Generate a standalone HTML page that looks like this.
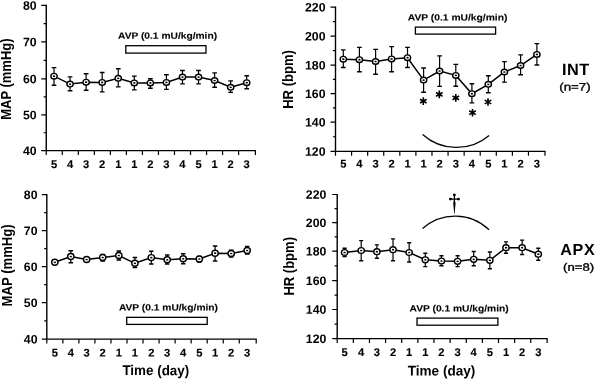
<!DOCTYPE html>
<html><head><meta charset="utf-8"><title>Figure</title>
<style>
html,body{margin:0;padding:0;background:#fff;}
svg{display:block;font-family:'Liberation Sans', sans-serif;will-change:transform;transform:translateZ(0);filter:blur(0.35px);}
text{fill:#000;}
</style></head>
<body>
<svg width="596" height="379" viewBox="0 0 596 379">
<rect width="596" height="379" fill="#fff"/>
<path d="M46.25 4.7 V150.6 H256" fill="none" stroke="#000" stroke-width="1.4"/>
<text transform="translate(36.65 9.65) rotate(0.05)" font-size="12.3" font-weight="bold" text-anchor="end" >80</text>
<text transform="translate(36.65 46.25) rotate(0.05)" font-size="12.3" font-weight="bold" text-anchor="end" >70</text>
<text transform="translate(36.65 83.15) rotate(0.05)" font-size="12.3" font-weight="bold" text-anchor="end" >60</text>
<text transform="translate(36.65 119.25) rotate(0.05)" font-size="12.3" font-weight="bold" text-anchor="end" >50</text>
<text transform="translate(36.65 154.95) rotate(0.05)" font-size="12.3" font-weight="bold" text-anchor="end" >40</text>
<path d="M41.25 5.3 H46.25 M43.65 23.6 H46.25 M41.25 41.9 H46.25 M43.65 60.35 H46.25 M41.25 78.8 H46.25 M43.65 96.85 H46.25 M41.25 114.9 H46.25 M43.65 132.75 H46.25 M41.25 150.6 H46.25 M46.25 150.6 V154.9 M62.28 150.6 V154.9 M78.31 150.6 V154.9 M94.34 150.6 V154.9 M110.37 150.6 V154.9 M126.4 150.6 V154.9 M142.43 150.6 V154.9 M158.46 150.6 V154.9 M174.49 150.6 V154.9 M190.52 150.6 V154.9 M206.55 150.6 V154.9 M222.58 150.6 V154.9 M238.61 150.6 V154.9 M255.4 150.6 V154.9" fill="none" stroke="#000" stroke-width="1.2"/>
<text transform="translate(54 168) rotate(0.05)" font-size="11.2" font-weight="bold" text-anchor="middle" stroke="#000" stroke-width="0.12" >5</text>
<text transform="translate(70.06 168) rotate(0.05)" font-size="11.2" font-weight="bold" text-anchor="middle" stroke="#000" stroke-width="0.12" >4</text>
<text transform="translate(86.12 168) rotate(0.05)" font-size="11.2" font-weight="bold" text-anchor="middle" stroke="#000" stroke-width="0.12" >3</text>
<text transform="translate(102.18 168) rotate(0.05)" font-size="11.2" font-weight="bold" text-anchor="middle" stroke="#000" stroke-width="0.12" >2</text>
<text transform="translate(118.24 168) rotate(0.05)" font-size="11.2" font-weight="bold" text-anchor="middle" stroke="#000" stroke-width="0.12" >1</text>
<text transform="translate(134.3 168) rotate(0.05)" font-size="11.2" font-weight="bold" text-anchor="middle" stroke="#000" stroke-width="0.12" >1</text>
<text transform="translate(150.36 168) rotate(0.05)" font-size="11.2" font-weight="bold" text-anchor="middle" stroke="#000" stroke-width="0.12" >2</text>
<text transform="translate(166.42 168) rotate(0.05)" font-size="11.2" font-weight="bold" text-anchor="middle" stroke="#000" stroke-width="0.12" >3</text>
<text transform="translate(182.48 168) rotate(0.05)" font-size="11.2" font-weight="bold" text-anchor="middle" stroke="#000" stroke-width="0.12" >4</text>
<text transform="translate(198.54 168) rotate(0.05)" font-size="11.2" font-weight="bold" text-anchor="middle" stroke="#000" stroke-width="0.12" >5</text>
<text transform="translate(214.6 168) rotate(0.05)" font-size="11.2" font-weight="bold" text-anchor="middle" stroke="#000" stroke-width="0.12" >1</text>
<text transform="translate(230.66 168) rotate(0.05)" font-size="11.2" font-weight="bold" text-anchor="middle" stroke="#000" stroke-width="0.12" >2</text>
<text transform="translate(246.72 168) rotate(0.05)" font-size="11.2" font-weight="bold" text-anchor="middle" stroke="#000" stroke-width="0.12" >3</text>
<path d="M54 67.6 V85.3 M70.06 76.9 V90.8 M86.12 73.7 V90.3 M102.18 72.5 V91.9 M118.24 68.8 V86.9 M134.3 76.1 V89.9 M150.36 78.8 V88.3 M166.42 74.8 V89.4 M182.48 70.5 V83.9 M198.54 70.5 V83.9 M214.6 72.9 V87.2 M230.66 80.9 V92.4 M246.72 75.8 V88.8" fill="none" stroke="#000" stroke-width="1.2"/>
<path d="M51.65 67.6 h4.7 M51.65 85.3 h4.7 M67.71 76.9 h4.7 M67.71 90.8 h4.7 M83.77 73.7 h4.7 M83.77 90.3 h4.7 M99.83 72.5 h4.7 M99.83 91.9 h4.7 M115.89 68.8 h4.7 M115.89 86.9 h4.7 M131.95 76.1 h4.7 M131.95 89.9 h4.7 M148.01 78.8 h4.7 M148.01 88.3 h4.7 M164.07 74.8 h4.7 M164.07 89.4 h4.7 M180.13 70.5 h4.7 M180.13 83.9 h4.7 M196.19 70.5 h4.7 M196.19 83.9 h4.7 M212.25 72.9 h4.7 M212.25 87.2 h4.7 M228.31 80.9 h4.7 M228.31 92.4 h4.7 M244.37 75.8 h4.7 M244.37 88.8 h4.7" fill="none" stroke="#000" stroke-width="1.4"/>
<path d="M54 76.2 L70.06 84.1 L86.12 82.2 L102.18 82.4 L118.24 78.3 L134.3 82.9 L150.36 82.9 L166.42 82.4 L182.48 77.1 L198.54 77.1 L214.6 80.5 L230.66 87.3 L246.72 82.7" fill="none" stroke="#000" stroke-width="1.5"/>
<ellipse cx="54" cy="76.2" rx="3.15" ry="2.8" fill="#fff" stroke="#000" stroke-width="1.4"/>
<ellipse cx="54" cy="76.2" rx="1.2" ry="0.85" fill="#000"/>
<ellipse cx="70.06" cy="84.1" rx="3.15" ry="2.8" fill="#fff" stroke="#000" stroke-width="1.4"/>
<ellipse cx="70.06" cy="84.1" rx="1.2" ry="0.85" fill="#000"/>
<ellipse cx="86.12" cy="82.2" rx="3.15" ry="2.8" fill="#fff" stroke="#000" stroke-width="1.4"/>
<ellipse cx="86.12" cy="82.2" rx="1.2" ry="0.85" fill="#000"/>
<ellipse cx="102.18" cy="82.4" rx="3.15" ry="2.8" fill="#fff" stroke="#000" stroke-width="1.4"/>
<ellipse cx="102.18" cy="82.4" rx="1.2" ry="0.85" fill="#000"/>
<ellipse cx="118.24" cy="78.3" rx="3.15" ry="2.8" fill="#fff" stroke="#000" stroke-width="1.4"/>
<ellipse cx="118.24" cy="78.3" rx="1.2" ry="0.85" fill="#000"/>
<ellipse cx="134.3" cy="82.9" rx="3.15" ry="2.8" fill="#fff" stroke="#000" stroke-width="1.4"/>
<ellipse cx="134.3" cy="82.9" rx="1.2" ry="0.85" fill="#000"/>
<ellipse cx="150.36" cy="82.9" rx="3.15" ry="2.8" fill="#fff" stroke="#000" stroke-width="1.4"/>
<ellipse cx="150.36" cy="82.9" rx="1.2" ry="0.85" fill="#000"/>
<ellipse cx="166.42" cy="82.4" rx="3.15" ry="2.8" fill="#fff" stroke="#000" stroke-width="1.4"/>
<ellipse cx="166.42" cy="82.4" rx="1.2" ry="0.85" fill="#000"/>
<ellipse cx="182.48" cy="77.1" rx="3.15" ry="2.8" fill="#fff" stroke="#000" stroke-width="1.4"/>
<ellipse cx="182.48" cy="77.1" rx="1.2" ry="0.85" fill="#000"/>
<ellipse cx="198.54" cy="77.1" rx="3.15" ry="2.8" fill="#fff" stroke="#000" stroke-width="1.4"/>
<ellipse cx="198.54" cy="77.1" rx="1.2" ry="0.85" fill="#000"/>
<ellipse cx="214.6" cy="80.5" rx="3.15" ry="2.8" fill="#fff" stroke="#000" stroke-width="1.4"/>
<ellipse cx="214.6" cy="80.5" rx="1.2" ry="0.85" fill="#000"/>
<ellipse cx="230.66" cy="87.3" rx="3.15" ry="2.8" fill="#fff" stroke="#000" stroke-width="1.4"/>
<ellipse cx="230.66" cy="87.3" rx="1.2" ry="0.85" fill="#000"/>
<ellipse cx="246.72" cy="82.7" rx="3.15" ry="2.8" fill="#fff" stroke="#000" stroke-width="1.4"/>
<ellipse cx="246.72" cy="82.7" rx="1.2" ry="0.85" fill="#000"/>
<rect x="125.8" y="45.7" width="80.2" height="7.4" fill="#fff" stroke="#000" stroke-width="1.3"/>
<text transform="translate(118 38.7) rotate(0.05)" font-size="9.15" font-weight="bold" text-anchor="start" textLength="99.1" lengthAdjust="spacingAndGlyphs" stroke="#000" stroke-width="0.1" >AVP (0.1 mU/kg/min)</text>
<text transform="translate(11.4 119.7) scale(1.135 1) rotate(-90)" x="0" y="0" font-size="13" font-weight="bold" textLength="81.2" lengthAdjust="spacingAndGlyphs">MAP (mmHg)</text>
<path d="M335.5 6.6 V151.4 H545.6" fill="none" stroke="#000" stroke-width="1.4"/>
<text transform="translate(325.5 11.55) rotate(0.05)" font-size="12.3" font-weight="bold" text-anchor="end" >220</text>
<text transform="translate(325.5 40.55) rotate(0.05)" font-size="12.3" font-weight="bold" text-anchor="end" >200</text>
<text transform="translate(325.5 69.45) rotate(0.05)" font-size="12.3" font-weight="bold" text-anchor="end" >180</text>
<text transform="translate(325.5 98.05) rotate(0.05)" font-size="12.3" font-weight="bold" text-anchor="end" >160</text>
<text transform="translate(325.5 126.45) rotate(0.05)" font-size="12.3" font-weight="bold" text-anchor="end" >140</text>
<text transform="translate(325.5 155.75) rotate(0.05)" font-size="12.3" font-weight="bold" text-anchor="end" >120</text>
<path d="M330.5 7.2 H335.5 M332.9 21.7 H335.5 M330.5 36.2 H335.5 M332.9 50.65 H335.5 M330.5 65.1 H335.5 M332.9 79.4 H335.5 M330.5 93.7 H335.5 M332.9 107.9 H335.5 M330.5 122.1 H335.5 M332.9 136.75 H335.5 M330.5 151.4 H335.5 M335.5 151.4 V155.7 M351.58 151.4 V155.7 M367.66 151.4 V155.7 M383.74 151.4 V155.7 M399.82 151.4 V155.7 M415.9 151.4 V155.7 M431.98 151.4 V155.7 M448.06 151.4 V155.7 M464.14 151.4 V155.7 M480.22 151.4 V155.7 M496.3 151.4 V155.7 M512.38 151.4 V155.7 M528.46 151.4 V155.7 M545 151.4 V155.7" fill="none" stroke="#000" stroke-width="1.2"/>
<text transform="translate(343.3 167.6) rotate(0.05)" font-size="11.2" font-weight="bold" text-anchor="middle" stroke="#000" stroke-width="0.12" >5</text>
<text transform="translate(359.4 167.6) rotate(0.05)" font-size="11.2" font-weight="bold" text-anchor="middle" stroke="#000" stroke-width="0.12" >4</text>
<text transform="translate(375.6 167.6) rotate(0.05)" font-size="11.2" font-weight="bold" text-anchor="middle" stroke="#000" stroke-width="0.12" >3</text>
<text transform="translate(391.6 167.6) rotate(0.05)" font-size="11.2" font-weight="bold" text-anchor="middle" stroke="#000" stroke-width="0.12" >2</text>
<text transform="translate(407.5 167.6) rotate(0.05)" font-size="11.2" font-weight="bold" text-anchor="middle" stroke="#000" stroke-width="0.12" >1</text>
<text transform="translate(423.6 167.6) rotate(0.05)" font-size="11.2" font-weight="bold" text-anchor="middle" stroke="#000" stroke-width="0.12" >1</text>
<text transform="translate(439.6 167.6) rotate(0.05)" font-size="11.2" font-weight="bold" text-anchor="middle" stroke="#000" stroke-width="0.12" >2</text>
<text transform="translate(455.8 167.6) rotate(0.05)" font-size="11.2" font-weight="bold" text-anchor="middle" stroke="#000" stroke-width="0.12" >3</text>
<text transform="translate(471.9 167.6) rotate(0.05)" font-size="11.2" font-weight="bold" text-anchor="middle" stroke="#000" stroke-width="0.12" >4</text>
<text transform="translate(488.3 167.6) rotate(0.05)" font-size="11.2" font-weight="bold" text-anchor="middle" stroke="#000" stroke-width="0.12" >5</text>
<text transform="translate(504.4 167.6) rotate(0.05)" font-size="11.2" font-weight="bold" text-anchor="middle" stroke="#000" stroke-width="0.12" >1</text>
<text transform="translate(520.6 167.6) rotate(0.05)" font-size="11.2" font-weight="bold" text-anchor="middle" stroke="#000" stroke-width="0.12" >2</text>
<text transform="translate(536.9 167.6) rotate(0.05)" font-size="11.2" font-weight="bold" text-anchor="middle" stroke="#000" stroke-width="0.12" >3</text>
<path d="M343.3 49.9 V67.5 M359.4 47.4 V71.8 M375.6 49.4 V74.3 M391.6 46.6 V71.8 M407.5 47.4 V67.5 M423.6 68 V92.2 M439.6 55.9 V86.4 M455.8 64.4 V86.3 M471.9 83.8 V102.9 M488.3 75.8 V92.8 M504.4 61.6 V82.1 M520.6 54.9 V74.8 M536.9 43.6 V65" fill="none" stroke="#000" stroke-width="1.2"/>
<path d="M340.95 49.9 h4.7 M340.95 67.5 h4.7 M357.05 47.4 h4.7 M357.05 71.8 h4.7 M373.25 49.4 h4.7 M373.25 74.3 h4.7 M389.25 46.6 h4.7 M389.25 71.8 h4.7 M405.15 47.4 h4.7 M405.15 67.5 h4.7 M421.25 68 h4.7 M421.25 92.2 h4.7 M437.25 55.9 h4.7 M437.25 86.4 h4.7 M453.45 64.4 h4.7 M453.45 86.3 h4.7 M469.55 83.8 h4.7 M469.55 102.9 h4.7 M485.95 75.8 h4.7 M485.95 92.8 h4.7 M502.05 61.6 h4.7 M502.05 82.1 h4.7 M518.25 54.9 h4.7 M518.25 74.8 h4.7 M534.55 43.6 h4.7 M534.55 65 h4.7" fill="none" stroke="#000" stroke-width="1.4"/>
<path d="M343.3 59.2 L359.4 59.7 L375.6 61.5 L391.6 58.9 L407.5 57.7 L423.6 80.1 L439.6 71 L455.8 75.4 L471.9 93.7 L488.3 84.3 L504.4 72.0 L520.6 65.5 L536.9 54.4" fill="none" stroke="#000" stroke-width="1.5"/>
<ellipse cx="343.3" cy="59.2" rx="3.15" ry="2.8" fill="#fff" stroke="#000" stroke-width="1.4"/>
<ellipse cx="343.3" cy="59.2" rx="1.2" ry="0.85" fill="#000"/>
<ellipse cx="359.4" cy="59.7" rx="3.15" ry="2.8" fill="#fff" stroke="#000" stroke-width="1.4"/>
<ellipse cx="359.4" cy="59.7" rx="1.2" ry="0.85" fill="#000"/>
<ellipse cx="375.6" cy="61.5" rx="3.15" ry="2.8" fill="#fff" stroke="#000" stroke-width="1.4"/>
<ellipse cx="375.6" cy="61.5" rx="1.2" ry="0.85" fill="#000"/>
<ellipse cx="391.6" cy="58.9" rx="3.15" ry="2.8" fill="#fff" stroke="#000" stroke-width="1.4"/>
<ellipse cx="391.6" cy="58.9" rx="1.2" ry="0.85" fill="#000"/>
<ellipse cx="407.5" cy="57.7" rx="3.15" ry="2.8" fill="#fff" stroke="#000" stroke-width="1.4"/>
<ellipse cx="407.5" cy="57.7" rx="1.2" ry="0.85" fill="#000"/>
<ellipse cx="423.6" cy="80.1" rx="3.15" ry="2.8" fill="#fff" stroke="#000" stroke-width="1.4"/>
<ellipse cx="423.6" cy="80.1" rx="1.2" ry="0.85" fill="#000"/>
<ellipse cx="439.6" cy="71" rx="3.15" ry="2.8" fill="#fff" stroke="#000" stroke-width="1.4"/>
<ellipse cx="439.6" cy="71" rx="1.2" ry="0.85" fill="#000"/>
<ellipse cx="455.8" cy="75.4" rx="3.15" ry="2.8" fill="#fff" stroke="#000" stroke-width="1.4"/>
<ellipse cx="455.8" cy="75.4" rx="1.2" ry="0.85" fill="#000"/>
<ellipse cx="471.9" cy="93.7" rx="3.15" ry="2.8" fill="#fff" stroke="#000" stroke-width="1.4"/>
<ellipse cx="471.9" cy="93.7" rx="1.2" ry="0.85" fill="#000"/>
<ellipse cx="488.3" cy="84.3" rx="3.15" ry="2.8" fill="#fff" stroke="#000" stroke-width="1.4"/>
<ellipse cx="488.3" cy="84.3" rx="1.2" ry="0.85" fill="#000"/>
<ellipse cx="504.4" cy="72.0" rx="3.15" ry="2.8" fill="#fff" stroke="#000" stroke-width="1.4"/>
<ellipse cx="504.4" cy="72.0" rx="1.2" ry="0.85" fill="#000"/>
<ellipse cx="520.6" cy="65.5" rx="3.15" ry="2.8" fill="#fff" stroke="#000" stroke-width="1.4"/>
<ellipse cx="520.6" cy="65.5" rx="1.2" ry="0.85" fill="#000"/>
<ellipse cx="536.9" cy="54.4" rx="3.15" ry="2.8" fill="#fff" stroke="#000" stroke-width="1.4"/>
<ellipse cx="536.9" cy="54.4" rx="1.2" ry="0.85" fill="#000"/>
<rect x="415.4" y="27.1" width="80.2" height="7" fill="#fff" stroke="#000" stroke-width="1.3"/>
<text transform="translate(407.8 20.5) rotate(0.05)" font-size="9.15" font-weight="bold" text-anchor="start" textLength="99.6" lengthAdjust="spacingAndGlyphs" stroke="#000" stroke-width="0.1" >AVP (0.1 mU/kg/min)</text>
<text transform="translate(293 108.8) scale(1.135 1) rotate(-90)" x="0" y="0" font-size="13" font-weight="bold" textLength="58.6" lengthAdjust="spacingAndGlyphs">HR (bpm)</text>
<path d="M423.3 97.3 L423.3 104.9 M420.01 99.2 L426.59 103 M426.59 99.2 L420.01 103" fill="none" stroke="#000" stroke-width="1.6"/>
<path d="M439.3 90.6 L439.3 98.2 M436.01 92.5 L442.59 96.3 M442.59 92.5 L436.01 96.3" fill="none" stroke="#000" stroke-width="1.6"/>
<path d="M455.8 94.1 L455.8 101.7 M452.51 96 L459.09 99.8 M459.09 96 L452.51 99.8" fill="none" stroke="#000" stroke-width="1.6"/>
<path d="M472.5 108.9 L472.5 116.5 M469.21 110.8 L475.79 114.6 M475.79 110.8 L469.21 114.6" fill="none" stroke="#000" stroke-width="1.6"/>
<path d="M488 98.2 L488 105.8 M484.71 100.1 L491.29 103.9 M491.29 100.1 L484.71 103.9" fill="none" stroke="#000" stroke-width="1.6"/>
<path d="M422.6 134.5 A50.5 50.5 0 0 0 489.1 135.4" fill="none" stroke="#000" stroke-width="1.3"/>
<text transform="translate(562.1 74.9) rotate(0.05)" font-size="16.3" font-weight="bold" text-anchor="start" textLength="27" lengthAdjust="spacing" >INT</text>
<text transform="translate(559.3 90.4) rotate(0.05)" font-size="10.75" font-weight="normal" text-anchor="start" textLength="31.3" lengthAdjust="spacingAndGlyphs" stroke="#000" stroke-width="0.35" >(n=7)</text>
<path d="M46.8 194.1 V339.15 H256.8" fill="none" stroke="#000" stroke-width="1.4"/>
<text transform="translate(37.5 199.05) rotate(0.05)" font-size="12.3" font-weight="bold" text-anchor="end" >80</text>
<text transform="translate(37.5 234.95) rotate(0.05)" font-size="12.3" font-weight="bold" text-anchor="end" >70</text>
<text transform="translate(37.5 270.95) rotate(0.05)" font-size="12.3" font-weight="bold" text-anchor="end" >60</text>
<text transform="translate(37.5 307.05) rotate(0.05)" font-size="12.3" font-weight="bold" text-anchor="end" >50</text>
<text transform="translate(37.5 343.5) rotate(0.05)" font-size="12.3" font-weight="bold" text-anchor="end" >40</text>
<path d="M41.8 194.7 H46.8 M44.2 212.65 H46.8 M41.8 230.6 H46.8 M44.2 248.6 H46.8 M41.8 266.6 H46.8 M44.2 284.65 H46.8 M41.8 302.7 H46.8 M44.2 320.92 H46.8 M41.8 339.15 H46.8 M46.8 339.15 V343.45 M62.84 339.15 V343.45 M78.88 339.15 V343.45 M94.92 339.15 V343.45 M110.96 339.15 V343.45 M127 339.15 V343.45 M143.04 339.15 V343.45 M159.08 339.15 V343.45 M175.12 339.15 V343.45 M191.16 339.15 V343.45 M207.2 339.15 V343.45 M223.24 339.15 V343.45 M239.28 339.15 V343.45 M256.2 339.15 V343.45" fill="none" stroke="#000" stroke-width="1.2"/>
<text transform="translate(54.8 356.55) rotate(0.05)" font-size="11.2" font-weight="bold" text-anchor="middle" stroke="#000" stroke-width="0.12" >5</text>
<text transform="translate(70.8 356.55) rotate(0.05)" font-size="11.2" font-weight="bold" text-anchor="middle" stroke="#000" stroke-width="0.12" >4</text>
<text transform="translate(86.6 356.55) rotate(0.05)" font-size="11.2" font-weight="bold" text-anchor="middle" stroke="#000" stroke-width="0.12" >3</text>
<text transform="translate(102.7 356.55) rotate(0.05)" font-size="11.2" font-weight="bold" text-anchor="middle" stroke="#000" stroke-width="0.12" >2</text>
<text transform="translate(118.8 356.55) rotate(0.05)" font-size="11.2" font-weight="bold" text-anchor="middle" stroke="#000" stroke-width="0.12" >1</text>
<text transform="translate(134.9 356.55) rotate(0.05)" font-size="11.2" font-weight="bold" text-anchor="middle" stroke="#000" stroke-width="0.12" >1</text>
<text transform="translate(151.3 356.55) rotate(0.05)" font-size="11.2" font-weight="bold" text-anchor="middle" stroke="#000" stroke-width="0.12" >2</text>
<text transform="translate(167.2 356.55) rotate(0.05)" font-size="11.2" font-weight="bold" text-anchor="middle" stroke="#000" stroke-width="0.12" >3</text>
<text transform="translate(183.2 356.55) rotate(0.05)" font-size="11.2" font-weight="bold" text-anchor="middle" stroke="#000" stroke-width="0.12" >4</text>
<text transform="translate(199.3 356.55) rotate(0.05)" font-size="11.2" font-weight="bold" text-anchor="middle" stroke="#000" stroke-width="0.12" >5</text>
<text transform="translate(215.1 356.55) rotate(0.05)" font-size="11.2" font-weight="bold" text-anchor="middle" stroke="#000" stroke-width="0.12" >1</text>
<text transform="translate(231.2 356.55) rotate(0.05)" font-size="11.2" font-weight="bold" text-anchor="middle" stroke="#000" stroke-width="0.12" >2</text>
<text transform="translate(247.2 356.55) rotate(0.05)" font-size="11.2" font-weight="bold" text-anchor="middle" stroke="#000" stroke-width="0.12" >3</text>
<path d="M54.8 260.8 V263.8 M70.8 250.7 V262.8 M86.6 258.5 V260.5 M102.7 254.5 V261 M118.8 251 V260 M134.9 257.5 V267.6 M151.3 251.2 V264 M167.2 255 V264 M183.2 253.7 V263.8 M199.3 256.5 V262 M215.1 246 V261 M231.2 250.2 V257 M247.2 246.4 V254" fill="none" stroke="#000" stroke-width="1.2"/>
<path d="M52.55 260.8 h4.5 M52.55 263.8 h4.5 M68.55 250.7 h4.5 M68.55 262.8 h4.5 M84.35 258.5 h4.5 M84.35 260.5 h4.5 M100.45 254.5 h4.5 M100.45 261 h4.5 M116.55 251 h4.5 M116.55 260 h4.5 M132.65 257.5 h4.5 M132.65 267.6 h4.5 M149.05 251.2 h4.5 M149.05 264 h4.5 M164.95 255 h4.5 M164.95 264 h4.5 M180.95 253.7 h4.5 M180.95 263.8 h4.5 M197.05 256.5 h4.5 M197.05 262 h4.5 M212.85 246 h4.5 M212.85 261 h4.5 M228.95 250.2 h4.5 M228.95 257 h4.5 M244.95 246.4 h4.5 M244.95 254 h4.5" fill="none" stroke="#000" stroke-width="1.4"/>
<path d="M54.8 262.3 L70.8 256.5 L86.6 259.5 L102.7 257.5 L118.8 255.5 L134.9 263.3 L151.3 257.6 L167.2 259.8 L183.2 258.8 L199.3 259 L215.1 253.2 L231.2 253.5 L247.2 250.5" fill="none" stroke="#000" stroke-width="1.5"/>
<ellipse cx="54.8" cy="262.3" rx="3.15" ry="3.0" fill="#fff" stroke="#000" stroke-width="1.4"/>
<ellipse cx="54.8" cy="262.3" rx="1.2" ry="0.85" fill="#000"/>
<ellipse cx="70.8" cy="256.5" rx="3.15" ry="3.0" fill="#fff" stroke="#000" stroke-width="1.4"/>
<ellipse cx="70.8" cy="256.5" rx="1.2" ry="0.85" fill="#000"/>
<ellipse cx="86.6" cy="259.5" rx="3.15" ry="3.0" fill="#fff" stroke="#000" stroke-width="1.4"/>
<ellipse cx="86.6" cy="259.5" rx="1.2" ry="0.85" fill="#000"/>
<ellipse cx="102.7" cy="257.5" rx="3.15" ry="3.0" fill="#fff" stroke="#000" stroke-width="1.4"/>
<ellipse cx="102.7" cy="257.5" rx="1.2" ry="0.85" fill="#000"/>
<ellipse cx="118.8" cy="255.5" rx="3.15" ry="3.0" fill="#fff" stroke="#000" stroke-width="1.4"/>
<ellipse cx="118.8" cy="255.5" rx="1.2" ry="0.85" fill="#000"/>
<ellipse cx="134.9" cy="263.3" rx="3.15" ry="3.0" fill="#fff" stroke="#000" stroke-width="1.4"/>
<ellipse cx="134.9" cy="263.3" rx="1.2" ry="0.85" fill="#000"/>
<ellipse cx="151.3" cy="257.6" rx="3.15" ry="3.0" fill="#fff" stroke="#000" stroke-width="1.4"/>
<ellipse cx="151.3" cy="257.6" rx="1.2" ry="0.85" fill="#000"/>
<ellipse cx="167.2" cy="259.8" rx="3.15" ry="3.0" fill="#fff" stroke="#000" stroke-width="1.4"/>
<ellipse cx="167.2" cy="259.8" rx="1.2" ry="0.85" fill="#000"/>
<ellipse cx="183.2" cy="258.8" rx="3.15" ry="3.0" fill="#fff" stroke="#000" stroke-width="1.4"/>
<ellipse cx="183.2" cy="258.8" rx="1.2" ry="0.85" fill="#000"/>
<ellipse cx="199.3" cy="259" rx="3.15" ry="3.0" fill="#fff" stroke="#000" stroke-width="1.4"/>
<ellipse cx="199.3" cy="259" rx="1.2" ry="0.85" fill="#000"/>
<ellipse cx="215.1" cy="253.2" rx="3.15" ry="3.0" fill="#fff" stroke="#000" stroke-width="1.4"/>
<ellipse cx="215.1" cy="253.2" rx="1.2" ry="0.85" fill="#000"/>
<ellipse cx="231.2" cy="253.5" rx="3.15" ry="3.0" fill="#fff" stroke="#000" stroke-width="1.4"/>
<ellipse cx="231.2" cy="253.5" rx="1.2" ry="0.85" fill="#000"/>
<ellipse cx="247.2" cy="250.5" rx="3.15" ry="3.0" fill="#fff" stroke="#000" stroke-width="1.4"/>
<ellipse cx="247.2" cy="250.5" rx="1.2" ry="0.85" fill="#000"/>
<rect x="126.7" y="317.35" width="80.5" height="7.05" fill="#fff" stroke="#000" stroke-width="1.3"/>
<text transform="translate(118.9 310.45) rotate(0.05)" font-size="9.15" font-weight="bold" text-anchor="start" textLength="99.1" lengthAdjust="spacingAndGlyphs" stroke="#000" stroke-width="0.1" >AVP (0.1 mU/kg/min)</text>
<text transform="translate(12.4 306.4) scale(1.135 1) rotate(-90)" x="0" y="0" font-size="13" font-weight="bold" textLength="82.1" lengthAdjust="spacingAndGlyphs">MAP (mmHg)</text>
<text transform="translate(122.4 375.1) rotate(0.05)" font-size="14.1" font-weight="bold" text-anchor="start" textLength="66.8" lengthAdjust="spacingAndGlyphs" >Time (day)</text>
<path d="M337.2 193.9 V338.65 H547.7" fill="none" stroke="#000" stroke-width="1.4"/>
<text transform="translate(326.4 198.85) rotate(0.05)" font-size="12.3" font-weight="bold" text-anchor="end" >220</text>
<text transform="translate(326.4 226.95) rotate(0.05)" font-size="12.3" font-weight="bold" text-anchor="end" >200</text>
<text transform="translate(326.4 255.55) rotate(0.05)" font-size="12.3" font-weight="bold" text-anchor="end" >180</text>
<text transform="translate(326.4 284.95) rotate(0.05)" font-size="12.3" font-weight="bold" text-anchor="end" >160</text>
<text transform="translate(326.4 313.85) rotate(0.05)" font-size="12.3" font-weight="bold" text-anchor="end" >140</text>
<text transform="translate(326.4 343) rotate(0.05)" font-size="12.3" font-weight="bold" text-anchor="end" >120</text>
<path d="M332.2 194.5 H337.2 M334.6 208.55 H337.2 M332.2 222.6 H337.2 M334.6 236.9 H337.2 M332.2 251.2 H337.2 M334.6 265.9 H337.2 M332.2 280.6 H337.2 M334.6 295.05 H337.2 M332.2 309.5 H337.2 M334.6 324.07 H337.2 M332.2 338.65 H337.2 M337.2 338.65 V342.95 M353.33 338.65 V342.95 M369.46 338.65 V342.95 M385.59 338.65 V342.95 M401.72 338.65 V342.95 M417.85 338.65 V342.95 M433.98 338.65 V342.95 M450.11 338.65 V342.95 M466.24 338.65 V342.95 M482.37 338.65 V342.95 M498.5 338.65 V342.95 M514.63 338.65 V342.95 M530.76 338.65 V342.95 M547.1 338.65 V342.95" fill="none" stroke="#000" stroke-width="1.2"/>
<text transform="translate(344.6 356.05) rotate(0.05)" font-size="11.2" font-weight="bold" text-anchor="middle" stroke="#000" stroke-width="0.12" >5</text>
<text transform="translate(361.2 356.05) rotate(0.05)" font-size="11.2" font-weight="bold" text-anchor="middle" stroke="#000" stroke-width="0.12" >4</text>
<text transform="translate(376.88 356.05) rotate(0.05)" font-size="11.2" font-weight="bold" text-anchor="middle" stroke="#000" stroke-width="0.12" >3</text>
<text transform="translate(393.02 356.05) rotate(0.05)" font-size="11.2" font-weight="bold" text-anchor="middle" stroke="#000" stroke-width="0.12" >2</text>
<text transform="translate(409.16 356.05) rotate(0.05)" font-size="11.2" font-weight="bold" text-anchor="middle" stroke="#000" stroke-width="0.12" >1</text>
<text transform="translate(425.3 356.05) rotate(0.05)" font-size="11.2" font-weight="bold" text-anchor="middle" stroke="#000" stroke-width="0.12" >1</text>
<text transform="translate(441.44 356.05) rotate(0.05)" font-size="11.2" font-weight="bold" text-anchor="middle" stroke="#000" stroke-width="0.12" >2</text>
<text transform="translate(457.58 356.05) rotate(0.05)" font-size="11.2" font-weight="bold" text-anchor="middle" stroke="#000" stroke-width="0.12" >3</text>
<text transform="translate(473.72 356.05) rotate(0.05)" font-size="11.2" font-weight="bold" text-anchor="middle" stroke="#000" stroke-width="0.12" >4</text>
<text transform="translate(489.86 356.05) rotate(0.05)" font-size="11.2" font-weight="bold" text-anchor="middle" stroke="#000" stroke-width="0.12" >5</text>
<text transform="translate(506 356.05) rotate(0.05)" font-size="11.2" font-weight="bold" text-anchor="middle" stroke="#000" stroke-width="0.12" >1</text>
<text transform="translate(522.14 356.05) rotate(0.05)" font-size="11.2" font-weight="bold" text-anchor="middle" stroke="#000" stroke-width="0.12" >2</text>
<text transform="translate(538.28 356.05) rotate(0.05)" font-size="11.2" font-weight="bold" text-anchor="middle" stroke="#000" stroke-width="0.12" >3</text>
<path d="M344.6 248.2 V256.5 M361.2 240.6 V260.8 M376.88 244.9 V258.3 M393.02 238.9 V260.8 M409.16 242.7 V262 M425.3 253.2 V266.6 M441.44 255.8 V265.8 M457.58 255.8 V266.6 M473.72 251.5 V265.8 M489.86 252 V268.8 M506 241.9 V253.2 M522.14 240.1 V254.5 M538.28 248.2 V260.3" fill="none" stroke="#000" stroke-width="1.2"/>
<path d="M342.55 248.2 h4.1 M342.55 256.5 h4.1 M359.15 240.6 h4.1 M359.15 260.8 h4.1 M374.83 244.9 h4.1 M374.83 258.3 h4.1 M390.97 238.9 h4.1 M390.97 260.8 h4.1 M407.11 242.7 h4.1 M407.11 262 h4.1 M423.25 253.2 h4.1 M423.25 266.6 h4.1 M439.39 255.8 h4.1 M439.39 265.8 h4.1 M455.53 255.8 h4.1 M455.53 266.6 h4.1 M471.67 251.5 h4.1 M471.67 265.8 h4.1 M487.81 252 h4.1 M487.81 268.8 h4.1 M503.95 241.9 h4.1 M503.95 253.2 h4.1 M520.09 240.1 h4.1 M520.09 254.5 h4.1 M536.23 248.2 h4.1 M536.23 260.3 h4.1" fill="none" stroke="#000" stroke-width="1.4"/>
<path d="M344.6 252.5 L361.2 250.5 L376.88 251.7 L393.02 249.7 L409.16 252.5 L425.3 259.8 L441.44 261 L457.58 261.3 L473.72 259.3 L489.86 260.3 L506 247.7 L522.14 247.7 L538.28 254.2" fill="none" stroke="#000" stroke-width="1.5"/>
<ellipse cx="344.6" cy="252.5" rx="3.15" ry="2.9" fill="#fff" stroke="#000" stroke-width="1.4"/>
<ellipse cx="344.6" cy="252.5" rx="1.2" ry="0.85" fill="#000"/>
<ellipse cx="361.2" cy="250.5" rx="3.15" ry="2.9" fill="#fff" stroke="#000" stroke-width="1.4"/>
<ellipse cx="361.2" cy="250.5" rx="1.2" ry="0.85" fill="#000"/>
<ellipse cx="376.88" cy="251.7" rx="3.15" ry="2.9" fill="#fff" stroke="#000" stroke-width="1.4"/>
<ellipse cx="376.88" cy="251.7" rx="1.2" ry="0.85" fill="#000"/>
<ellipse cx="393.02" cy="249.7" rx="3.15" ry="2.9" fill="#fff" stroke="#000" stroke-width="1.4"/>
<ellipse cx="393.02" cy="249.7" rx="1.2" ry="0.85" fill="#000"/>
<ellipse cx="409.16" cy="252.5" rx="3.15" ry="2.9" fill="#fff" stroke="#000" stroke-width="1.4"/>
<ellipse cx="409.16" cy="252.5" rx="1.2" ry="0.85" fill="#000"/>
<ellipse cx="425.3" cy="259.8" rx="3.15" ry="2.9" fill="#fff" stroke="#000" stroke-width="1.4"/>
<ellipse cx="425.3" cy="259.8" rx="1.2" ry="0.85" fill="#000"/>
<ellipse cx="441.44" cy="261" rx="3.15" ry="2.9" fill="#fff" stroke="#000" stroke-width="1.4"/>
<ellipse cx="441.44" cy="261" rx="1.2" ry="0.85" fill="#000"/>
<ellipse cx="457.58" cy="261.3" rx="3.15" ry="2.9" fill="#fff" stroke="#000" stroke-width="1.4"/>
<ellipse cx="457.58" cy="261.3" rx="1.2" ry="0.85" fill="#000"/>
<ellipse cx="473.72" cy="259.3" rx="3.15" ry="2.9" fill="#fff" stroke="#000" stroke-width="1.4"/>
<ellipse cx="473.72" cy="259.3" rx="1.2" ry="0.85" fill="#000"/>
<ellipse cx="489.86" cy="260.3" rx="3.15" ry="2.9" fill="#fff" stroke="#000" stroke-width="1.4"/>
<ellipse cx="489.86" cy="260.3" rx="1.2" ry="0.85" fill="#000"/>
<ellipse cx="506" cy="247.7" rx="3.15" ry="2.9" fill="#fff" stroke="#000" stroke-width="1.4"/>
<ellipse cx="506" cy="247.7" rx="1.2" ry="0.85" fill="#000"/>
<ellipse cx="522.14" cy="247.7" rx="3.15" ry="2.9" fill="#fff" stroke="#000" stroke-width="1.4"/>
<ellipse cx="522.14" cy="247.7" rx="1.2" ry="0.85" fill="#000"/>
<ellipse cx="538.28" cy="254.2" rx="3.15" ry="2.9" fill="#fff" stroke="#000" stroke-width="1.4"/>
<ellipse cx="538.28" cy="254.2" rx="1.2" ry="0.85" fill="#000"/>
<rect x="417" y="318.1" width="80.9" height="7.1" fill="#fff" stroke="#000" stroke-width="1.3"/>
<text transform="translate(409.6 311.4) rotate(0.05)" font-size="9.15" font-weight="bold" text-anchor="start" textLength="99.1" lengthAdjust="spacingAndGlyphs" stroke="#000" stroke-width="0.1" >AVP (0.1 mU/kg/min)</text>
<text transform="translate(294.4 295.6) scale(1.135 1) rotate(-90)" x="0" y="0" font-size="13" font-weight="bold" textLength="58.6" lengthAdjust="spacingAndGlyphs">HR (bpm)</text>
<text transform="translate(407.8 375.5) rotate(0.05)" font-size="14.1" font-weight="bold" text-anchor="start" textLength="67.4" lengthAdjust="spacingAndGlyphs" >Time (day)</text>
<path d="M422.6 228.4 A49 49 0 0 1 489.1 229.7" fill="none" stroke="#000" stroke-width="1.3"/>
<path d="M454.4 194.5 V202 M450.2 199.1 H458.7" fill="none" stroke="#000" stroke-width="1.2"/>
<circle cx="454.4" cy="195" r="1.4"/><circle cx="450.4" cy="199.1" r="1.45"/><circle cx="458.5" cy="199.1" r="1.45"/>
<path d="M453.8 200.5 L455 200.5 L455.55 203.6 L455.05 209 L454.65 213.5 L454.15 213.5 L453.75 209 L453.25 203.6 Z"/>
<text transform="translate(560.3 255.1) rotate(0.05)" font-size="16.1" font-weight="bold" text-anchor="start" textLength="34.5" lengthAdjust="spacing" >APX</text>
<text transform="translate(563 270.7) rotate(0.05)" font-size="10.75" font-weight="normal" text-anchor="start" textLength="31.1" lengthAdjust="spacingAndGlyphs" stroke="#000" stroke-width="0.35" >(n=8)</text>
</svg>
</body></html>
